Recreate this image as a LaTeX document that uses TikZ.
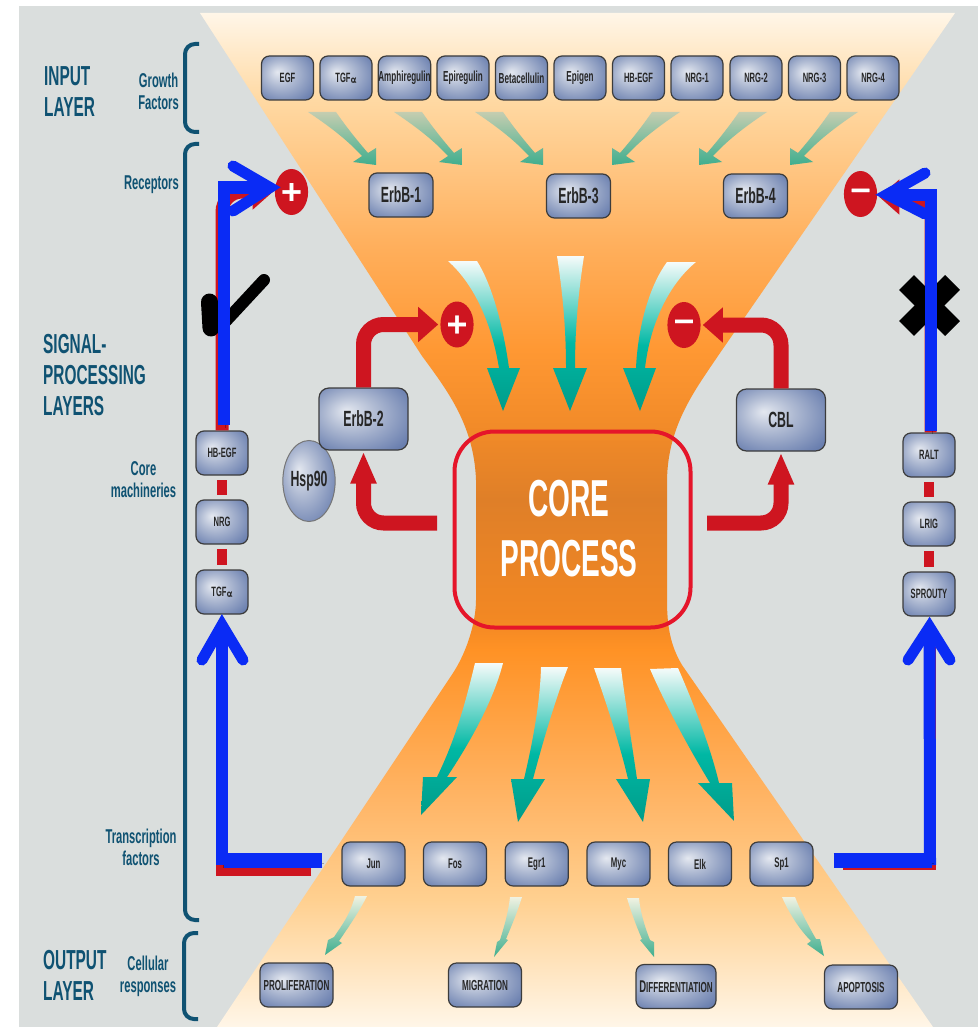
\documentclass[tikz,border=0pt]{standalone}
\usepackage{fontspec}
\setmainfont[FakeStretch=0.56]{Liberation Sans}
\newfontfamily\symfont[FakeBold=1.5]{DejaVu Sans}
\newfontfamily\corefont[FakeStretch=0.54]{Liberation Sans}
\usetikzlibrary{arrows.meta,shapes.geometric,calc}
\definecolor{panel}{HTML}{DADEDD}
\definecolor{hgA}{HTML}{FFF6E8}
\definecolor{hgB}{HTML}{FFD9A3}
\definecolor{hgC}{HTML}{FFAE5A}
\definecolor{hgD}{HTML}{FF9833}
\definecolor{hgE}{HTML}{F18A28}
\definecolor{hgF}{HTML}{DF7F28}
\definecolor{hgG}{HTML}{F38823}
\definecolor{hgH}{HTML}{FF9225}
\definecolor{hgI}{HTML}{FFB566}
\definecolor{hgJ}{HTML}{FFD090}
\definecolor{btnA}{HTML}{E4E8F0}
\definecolor{btnB}{HTML}{B0BBD3}
\definecolor{btnC}{HTML}{6A7FAF}
\definecolor{tealA}{HTML}{009C8A}
\definecolor{tealB}{HTML}{00B8A4}
\definecolor{tealC}{HTML}{F6FBFA}
\definecolor{teal2}{HTML}{3FAE8E}
\definecolor{fadeA}{HTML}{C5CDB0}
\definecolor{fadeB}{HTML}{F0F2E2}
\definecolor{inkblue}{HTML}{0F5272}
\definecolor{sigred}{HTML}{CE1520}
\definecolor{corered}{HTML}{E5152A}
\definecolor{penblue}{HTML}{0A2BF5}
\definecolor{btnedge}{HTML}{3C3C3C}
\pgfdeclareverticalshading{hourglass}{100bp}{color(0bp)=(hgA);color(25bp)=(hgA);color(31.3bp)=(hgJ);color(36.2bp)=(hgI);color(43.6bp)=(hgH);color(45bp)=(hgG);color(51bp)=(hgF);color(54.4bp)=(hgE);color(58.4bp)=(hgD);color(63.3bp)=(hgC);color(70.7bp)=(hgB);color(75bp)=(hgA);color(100bp)=(hgA)}
\pgfdeclareverticalshading{tealfade}{100bp}{color(0bp)=(tealA);color(25bp)=(tealA);color(47bp)=(tealB);color(75bp)=(tealC);color(100bp)=(tealC)}
\pgfdeclareradialshading{btnshade}{\pgfpoint{-10bp}{7bp}}{color(0bp)=(btnA);color(14bp)=(btnB);color(34bp)=(btnC);color(50bp)=(btnC)}
\newcommand{\fs}[1]{\fontsize{#1}{#1}\selectfont}
\tikzset{
  btn/.style={draw=btnedge,line width=1.2pt,shading=btnshade,rounded corners=8pt,inner sep=0pt,text=black!85,font=\fs{14.5}\bfseries,minimum width=52pt,minimum height=44pt},
  btns/.style={btn,font=\fs{13.5}\bfseries},
  btnm/.style={btn,minimum width=63pt,font=\fs{14}\bfseries},
  btnw/.style={btn,minimum width=73pt},
  btnl/.style={btn,minimum width=64pt,font=\fs{22}\bfseries},
  btnb/.style={btn,minimum width=89pt,minimum height=62pt,rounded corners=10pt,font=\fs{22}\bfseries},
  ballnode/.style={ellipse,draw=btnedge!70,line width=1pt,shading=btnshade,inner sep=0pt,minimum width=52pt,minimum height=81pt,text=black!85,font=\fs{22}\bfseries},
  signbig/.style={ellipse,fill=sigred,inner sep=0pt,minimum width=30pt,minimum height=46pt,text=white,font=\symfont\fontsize{28}{28}\selectfont\bfseries},
  lay/.style={anchor=west,align=left,text=inkblue,inner sep=0pt,font=\fontsize{27.5}{31}\selectfont\bfseries},
  sub/.style={align=center,text=inkblue,inner sep=0pt,font=\fontsize{20}{22}\selectfont\bfseries},
  bracepath/.style={draw=inkblue,line width=4pt,rounded corners=10pt},
  redbar/.style={draw=sigred,line width=10pt,shorten <=4.5pt,shorten >=4.5pt},
  redpipe/.style={draw=sigred,line width=15pt,rounded corners=20pt},
  redthin/.style={draw=sigred,line width=12pt},
  headwide/.style={-{Triangle[length=20pt,width=34pt]}},
  headtall/.style={-{Triangle[length=32pt,width=24pt]}},
  penbase/.style={draw=penblue,preaction={draw=black,opacity=.28,transform canvas={shift={(1.5,2.5)}}}},
  penv/.style={penbase,line width=11pt,line cap=round,miter limit=10},
  pena/.style={penbase,line width=12pt},
  penh/.style={penbase,line width=15pt},
  bigarrow/.style={shading=tealfade},
  smallarrow/.style={top color=fadeA,bottom color=teal2},
  lowarrow/.style={top color=fadeB,bottom color=teal2},
  blackmark/.style={draw=black,line cap=round},
}
\begin{document}
\begin{tikzpicture}[x=1pt,y=-1pt]
\useasboundingbox (0,0) rectangle (978,1027);
\fill[white] (0,0) rectangle (978,1027);
\fill[panel] (19,6) rectangle (978,1027);
% hourglass
\path[shading=hourglass] (200,13) -- (955,13) -- (720,353)
  .. controls (695,390) and (668,425) .. (667,480) -- (667,600)
  .. controls (667,625) and (670,645) .. (682,665) -- (933,1027) -- (217,1027) -- (453,673)
  .. controls (468,650) and (476,620) .. (476,600) -- (476,480)
  .. controls (474,425) and (447,390) .. (422,356) -- cycle;
% braces
\draw[bracepath] (199,44) -- (185,44) -- (185,132) -- (199,132);
\draw[bracepath] (199,144) -- (185,144) -- (185,920) -- (199,920);
\draw[bracepath] (198,933) -- (184,933) -- (184,1019) -- (198,1019);
% layer labels
\node[lay] (inputlayer) at (44,92) {INPUT\\LAYER};
\node[lay] (signallayer) at (43,375) {SIGNAL-\\PROCESSING\\LAYERS};
\node[lay] (outputlayer) at (43,975) {OUTPUT\\LAYER};
\node[sub,anchor=east] (growth) at (179,91) {Growth\\Factors};
\node[sub,anchor=east] (receptors) at (179,185) {Receptors};
\node[sub,anchor=center] (coremach) at (143.5,480) {Core\\machineries};
\node[sub,anchor=center] (transcr) at (141,847) {Transcription\\factors};
\node[sub,anchor=center] (cellular) at (148,976) {Cellular\\responses};
% small upper arrows
\foreach \dx in {0,86,167}{
  \path[smallarrow,shift={(\dx,0)}] (308,112) .. controls (335,130) and (350,143) .. (362,156) -- (353,162) -- (376,165) -- (376,148) -- (368,153) .. controls (355,138) and (345,125) .. (336,112) -- cycle;
}
\foreach \mx in {988,1075,1166}{
  \path[smallarrow,shift={(\mx,0)},xscale=-1] (308,112) .. controls (335,130) and (350,143) .. (362,156) -- (353,162) -- (376,165) -- (376,148) -- (368,153) .. controls (355,138) and (345,125) .. (336,112) -- cycle;
}
% big upper arrows
\path[bigarrow] (448,261) .. controls (475,285) and (492,325) .. (499,368) -- (487,368) -- (503,411) -- (520,368) -- (509,368) .. controls (503,325) and (492,285) .. (477,261) -- cycle;
\path[bigarrow] (557,256) .. controls (563,295) and (566,330) .. (566,368) -- (553,368) -- (570,411) -- (587,368) -- (575,368) .. controls (575,330) and (578,295) .. (584,256) -- cycle;
\path[bigarrow] (696,262) .. controls (668,285) and (650,325) .. (645,368) -- (656,368) -- (640,411) -- (623,368) -- (636,368) .. controls (638,325) and (650,285) .. (667,262) -- cycle;
% big lower arrows
\path[bigarrow] (475,663) .. controls (465,705) and (455,740) .. (437,777) -- (423,777) -- (421,815) -- (457,777) -- (447,777) .. controls (475,735) and (495,695) .. (503,663) -- cycle;
\path[bigarrow] (541,667) .. controls (540,705) and (532,745) .. (524,779) -- (511,779) -- (518,822) -- (545,779) -- (533,779) .. controls (542,745) and (555,700) .. (568,667) -- cycle;
\path[bigarrow] (594,668) .. controls (607,705) and (620,745) .. (628,779) -- (616,779) -- (643,822) -- (650,779) -- (637,779) .. controls (632,745) and (625,700) .. (621,668) -- cycle;
\path[bigarrow] (650,669) .. controls (668,710) and (690,750) .. (710,783) -- (698,783) -- (734,821) -- (732,783) -- (719,783) .. controls (710,745) and (692,700) .. (678,668) -- cycle;
% small lower arrows
\path[lowarrow] (355,896) .. controls (350,915) and (342,925) .. (334,937) -- (328,940) -- (325,955) -- (342,943) -- (339,941) .. controls (350,925) and (360,910) .. (367,896) -- cycle;
\path[lowarrow] (510,897) .. controls (508,915) and (503,930) .. (500,940) -- (497,942) -- (494,957) -- (508,940) -- (506,939) .. controls (512,925) and (518,910) .. (522,897) -- cycle;
\path[lowarrow] (627,898) .. controls (632,915) and (638,930) .. (642,939) -- (640,940) -- (654,957) -- (654,942) -- (650,940) .. controls (644,925) and (640,910) .. (639,898) -- cycle;
\path[lowarrow] (782,897) .. controls (790,915) and (800,930) .. (811,941) -- (807,944) -- (824,956) -- (820,939) -- (816,939) .. controls (808,925) and (800,910) .. (795,897) -- cycle;
% core
\node[draw=corered,line width=4pt,rounded corners=40pt,minimum width=236pt,minimum height=196pt,inner sep=0pt] (core) at (572.5,529.5) {};
\node[align=center,text=white,inner sep=0pt,font=\corefont\fontsize{52}{60}\selectfont\bfseries] (coretext) at (569,529) {CORE\\PROCESS};
% nodes
\node[btns] (egf) at (287.5,78) {EGF};
\node[btns] (tgfa) at (346,78) {TGF{\symfont\mdseries\fontsize{9}{9}\selectfont α}};
\node[btn] (amph) at (404.5,78) {Amphiregulin};
\node[btn] (epir) at (463,78) {Epiregulin};
\node[btn] (beta) at (521.5,78) {Betacellulin};
\node[btn] (epig) at (580,78) {Epigen};
\node[btns] (hbegftop) at (638.5,78) {HB-EGF};
\node[btns] (nrgone) at (697,78) {NRG-1};
\node[btns] (nrgtwo) at (756,78) {NRG-2};
\node[btns] (nrgthree) at (814.5,78) {NRG-3};
\node[btns] (nrgfour) at (873,78) {NRG-4};
\node[btnl] (erbone) at (401,195) {ErbB-1};
\node[btnl] (erbthree) at (578.5,196) {ErbB-3};
\node[btnl] (erbfour) at (755.5,196) {ErbB-4};
\node[ballnode] (hsp) at (309,481) {Hsp90};
\node[btnb] (erbtwo) at (363.5,419) {ErbB-2};
\node[btnb] (cbl) at (781,420) {CBL};
\node[btns] (hb) at (222,453) {HB-EGF};
\node[btns] (nrg) at (222,522) {NRG};
\node[btns] (tgf) at (222,592) {TGF{\symfont\mdseries\fontsize{9}{9}\selectfont α}};
\node[btns] (ralt) at (929,455) {RALT};
\node[btns] (lrig) at (929,524) {LRIG};
\node[btns] (sprouty) at (929,594) {SPROUTY};
\node[btnm] (jun) at (373.5,864) {Jun};
\node[btnm] (fos) at (455,864) {Fos};
\node[btnm] (egr) at (536.7,864) {Egr1};
\node[btnm] (myc) at (618.5,864) {Myc};
\node[btnm] (elk) at (700,864) {Elk};
\node[btnm] (spone) at (781.5,864) {Sp1};
\node[btnw] (prolif) at (296.5,985) {PROLIFERATION};
\node[btnw] (migr) at (485,985) {MIGRATION};
\node[btnw,minimum width=80pt] (diff) at (676,986.5) {{\fs{17}D}IFFERENTIATION};
\node[btnw] (apop) at (861,987) {APOPTOSIS};
\node[signbig] (plusbig) at (291.5,192) {\raisebox{-2pt}{+}};
\node[signbig] (plussmall) at (457,324.5) {\raisebox{-2pt}{+}};
\node[signbig] (minusbig) at (860.5,194) {\raisebox{-5pt}{−}};
\node[signbig] (minussmall) at (684,325) {\raisebox{-5pt}{−}};
% links inside columns
\draw[redbar] (hb.south) -- (nrg.north);
\draw[redbar] (nrg.south) -- (tgf.north);
\draw[redbar] (ralt.south) -- (lrig.north);
\draw[redbar] (lrig.south) -- (sprouty.north);
% red connectors
\coordinate (coreoutl) at (437,523);
\coordinate (coreoutr) at (707,523);
\draw[redpipe,headwide,shorten >=2pt] (erbtwo.north) |- (plussmall.west);
\draw[redpipe,headwide,shorten >=2pt] (cbl.north) |- (minussmall.east);
\draw[redpipe,headtall,shorten >=1pt] (coreoutl) -| (erbtwo.south);
\draw[redpipe,headtall,shorten >=1pt] (coreoutr) -| (cbl.south);
\draw[redpipe,line width=13pt,headwide,shorten >=2pt] (hb.north) |- (plusbig.west);
\draw[redpipe,line width=12pt,headwide,shorten >=2pt] ([xshift=1.5pt]ralt.north) |- ([yshift=-3pt]minusbig.east);
\draw[redthin,shorten <=30pt,shorten >=30pt] ([yshift=-6pt]jun.west) -| (tgf.south);
\draw[redthin,shorten <=29pt,shorten >=30pt] (spone.east) -| ([xshift=1pt]sprouty.south);
% hand marks
\draw[blackmark,line width=17pt] (209.5,302) -- (211,328);
\draw[blackmark,line width=12pt] (225,322) -- (264,280);
\draw[draw=black,line width=21pt] (906.5,282.5) -- (952.5,328.5);
\draw[draw=black,line width=21pt] (952.5,282.5) -- (906.5,328.5);
% blue pen strokes
\coordinate (lapex) at (222,625);
\coordinate (rapex) at (929.5,627);
\coordinate (ulapex) at (270,187.5);
\coordinate (urapex) at (887,194.5);
\draw[pena] ([xshift=2pt,yshift=5pt]hb.north) |- (ulapex);
\draw[penv] (233,166) -- (ulapex) -- (233,211);
\draw[pena] ([xshift=1.5pt,yshift=1pt]ralt.north) |- (urapex);
\draw[penv] (925,173) -- (urapex) -- (925,214);
\coordinate (lcorner) at (222,865);
\coordinate (lturn) at (224,860.5);
\coordinate (rcorner) at (930,865);
\coordinate (rturn) at (932,860.5);
\draw[pena] (lcorner) -- (lapex);
\draw[penv] (202,660) -- (lapex) -- (243,660);
\draw[penh,shorten <=19pt] ([yshift=3.5pt]jun.west) -- (lturn);
\draw[pena] (rcorner) -- (rapex);
\draw[penv] (908,660) -- (rapex) -- (950,660);
\draw[penh,shorten <=20pt] ([yshift=3.5pt]spone.east) -- (rturn);
\end{tikzpicture}
\end{document}
